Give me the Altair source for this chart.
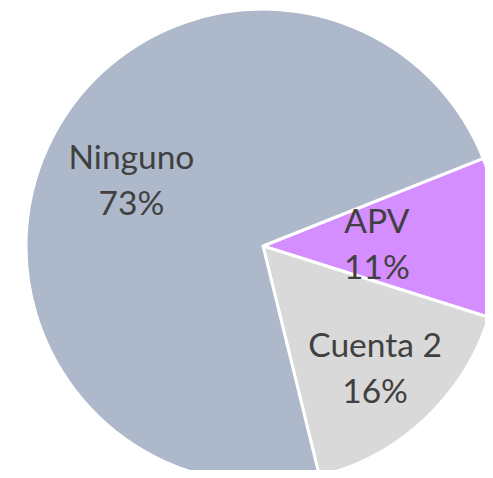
import math
import altair as alt
import pandas as pd

categories = ["APV", "Cuenta 2", "Ninguno"]
values = [10.9, 16.3, 72.8]
pct_labels = ["11%", "16%", "73%"]
colors = ["#D58EFF", "#D9D9D9", "#ADB9CA"]

df = pd.DataFrame({
    "cat": categories,
    "val": values,
    "ord": list(range(len(categories))),
    "label": [f"{c}\n{p}" for c, p in zip(categories, pct_labels)],
})

total = float(sum(values))
start = math.radians(68.3)
theta_scale = alt.Scale(domain=[0, total], range=[start, start + 2 * math.pi])
cx, cy = 255, 238

pie = alt.Chart(df).mark_arc(outerRadius=237, stroke="white", strokeWidth=3).encode(
    theta=alt.Theta("val:Q", stack=True, scale=theta_scale),
    order=alt.Order("ord:Q"),
    color=alt.Color("cat:N", scale=alt.Scale(domain=categories, range=colors), legend=None),
    x=alt.value(cx),
    y=alt.value(cy),
)

radii = {"APV": 114, "Cuenta 2": 164, "Ninguno": 148}
texts = []
for c in categories:
    t = alt.Chart(df).transform_window(
        cum="sum(val)", sort=[alt.SortField("ord")]
    ).transform_calculate(
        mid="datum.cum - datum.val / 2"
    ).transform_filter(
        alt.datum.cat == c
    ).mark_text(
        radius=radii[c], font="Lato", fontSize=33.5, color="#404040",
        lineBreak="\n", lineHeight=46, align="center", baseline="middle", dy=-19,
    ).encode(
        theta=alt.Theta("mid:Q", stack=None, scale=theta_scale),
        text="label:N",
        x=alt.value(cx),
        y=alt.value(cy),
    )
    texts.append(t)

chart = alt.layer(pie, *texts).properties(
    width=477, height=462, padding=0, autosize=alt.AutoSizeParams(type="none")
).configure_view(stroke=None)

chart.save("out.html", embed_options={"renderer": "svg", "actions": False})
